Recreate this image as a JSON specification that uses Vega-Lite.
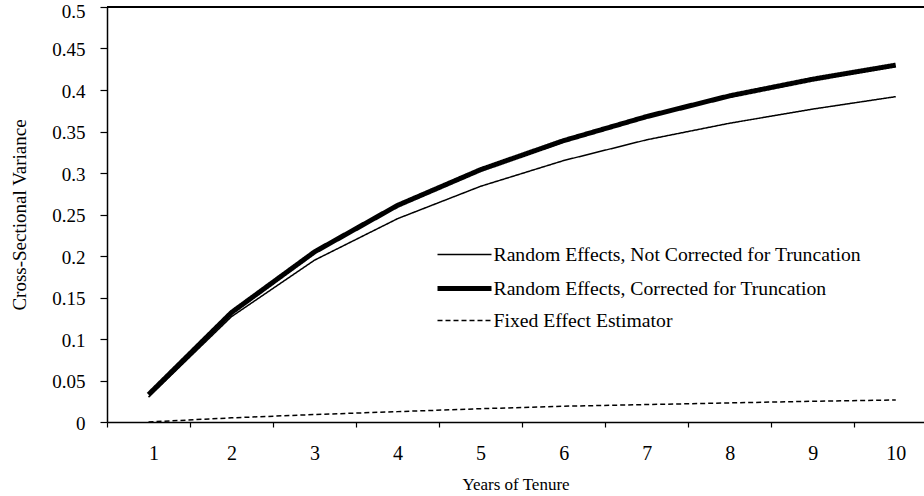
{
  "$schema": "https://vega.github.io/schema/vega-lite/v6.json",
  "autosize": "none",
  "width": 817,
  "height": 415,
  "padding": {"left": 107, "top": 7, "right": 0, "bottom": 74},
  "background": "white",
  "config": {
    "view": {"stroke": null},
    "font": "Liberation Serif",
    "axis": {"grid": false, "domainColor": "black", "tickColor": "black", "labelColor": "black", "titleColor": "black", "domainWidth": 1.5, "tickWidth": 1.2, "labelFont": "Liberation Serif", "titleFont": "Liberation Serif", "titleFontWeight": "normal"},
    "legend": {"labelFont": "Liberation Serif"}
  },
  "data": {
    "values": [
      {"t": 1, "s": "Random Effects, Not Corrected for Truncation", "v": 0.030},
      {"t": 2, "s": "Random Effects, Not Corrected for Truncation", "v": 0.127},
      {"t": 3, "s": "Random Effects, Not Corrected for Truncation", "v": 0.195},
      {"t": 4, "s": "Random Effects, Not Corrected for Truncation", "v": 0.245},
      {"t": 5, "s": "Random Effects, Not Corrected for Truncation", "v": 0.284},
      {"t": 6, "s": "Random Effects, Not Corrected for Truncation", "v": 0.315},
      {"t": 7, "s": "Random Effects, Not Corrected for Truncation", "v": 0.340},
      {"t": 8, "s": "Random Effects, Not Corrected for Truncation", "v": 0.360},
      {"t": 9, "s": "Random Effects, Not Corrected for Truncation", "v": 0.377},
      {"t": 10, "s": "Random Effects, Not Corrected for Truncation", "v": 0.392},
      {"t": 1, "s": "Random Effects, Corrected for Truncation", "v": 0.033},
      {"t": 2, "s": "Random Effects, Corrected for Truncation", "v": 0.132},
      {"t": 3, "s": "Random Effects, Corrected for Truncation", "v": 0.205},
      {"t": 4, "s": "Random Effects, Corrected for Truncation", "v": 0.261},
      {"t": 5, "s": "Random Effects, Corrected for Truncation", "v": 0.304},
      {"t": 6, "s": "Random Effects, Corrected for Truncation", "v": 0.339},
      {"t": 7, "s": "Random Effects, Corrected for Truncation", "v": 0.368},
      {"t": 8, "s": "Random Effects, Corrected for Truncation", "v": 0.393},
      {"t": 9, "s": "Random Effects, Corrected for Truncation", "v": 0.413},
      {"t": 10, "s": "Random Effects, Corrected for Truncation", "v": 0.430},
      {"t": 1, "s": "Fixed Effect Estimator", "v": 0.0},
      {"t": 2, "s": "Fixed Effect Estimator", "v": 0.005},
      {"t": 3, "s": "Fixed Effect Estimator", "v": 0.009},
      {"t": 4, "s": "Fixed Effect Estimator", "v": 0.0125},
      {"t": 5, "s": "Fixed Effect Estimator", "v": 0.016},
      {"t": 6, "s": "Fixed Effect Estimator", "v": 0.019},
      {"t": 7, "s": "Fixed Effect Estimator", "v": 0.021},
      {"t": 8, "s": "Fixed Effect Estimator", "v": 0.023},
      {"t": 9, "s": "Fixed Effect Estimator", "v": 0.025},
      {"t": 10, "s": "Fixed Effect Estimator", "v": 0.0265}
    ]
  },
  "layer": [
    {
      "mark": {"type": "rule", "color": "black", "strokeWidth": 1.5},
      "encoding": {"y": {"datum": 0.5}}
    },
    {
      "mark": {"type": "line", "strokeCap": "butt", "strokeJoin": "round"},
      "encoding": {
        "x": {
          "field": "t", "type": "quantitative",
          "scale": {"domain": [0.5, 10.34], "nice": false, "zero": false},
          "axis": {
            "values": [0.5, 1.5, 2.5, 3.5, 4.5, 5.5, 6.5, 7.5, 8.5, 9.5],
            "labelExpr": "datum.value + 0.5",
            "labelOffset": 41.5,
            "labelFontSize": 20,
            "labelPadding": 16,
            "tickSize": 5,
            "title": "Years of Tenure",
            "titleFontSize": 17,
            "titleY": 62,
            "titleBaseline": "middle"
          }
        },
        "y": {
          "field": "v", "type": "quantitative",
          "scale": {"domain": [0, 0.5], "nice": false},
          "axis": {
            "values": [0, 0.05, 0.1, 0.15, 0.2, 0.25, 0.3, 0.35, 0.4, 0.45, 0.5],
            "format": "~g",
            "labelFontSize": 19,
            "labelPadding": 15,
            "labelOffset": {"condition": {"test": "datum.value == 0.5", "value": 4}, "value": 1},
            "tickSize": 7,
            "title": "Cross-Sectional Variance",
            "titleFontSize": 19,
            "titleX": -88,
            "titleBaseline": "middle"
          }
        },
        "color": {
          "field": "s", "type": "nominal",
          "scale": {"domain": ["Random Effects, Not Corrected for Truncation", "Random Effects, Corrected for Truncation", "Fixed Effect Estimator"], "range": ["black", "black", "black"]},
          "legend": {
            "title": null, "orient": "none", "legendX": 341.5, "legendY": 233,
            "symbolType": "M-2,0H2", "symbolSize": 729, "labelFontSize": 19.7,
            "labelOffset": 13, "rowPadding": 7.5, "padding": 0, "labelLimit": 0
          }
        },
        "strokeWidth": {
          "field": "s", "type": "nominal",
          "scale": {"type": "ordinal", "domain": ["Random Effects, Not Corrected for Truncation", "Random Effects, Corrected for Truncation", "Fixed Effect Estimator"], "range": [1.5, 5, 1.5]}
        },
        "strokeDash": {
          "field": "s", "type": "nominal",
          "scale": {"domain": ["Random Effects, Not Corrected for Truncation", "Random Effects, Corrected for Truncation", "Fixed Effect Estimator"], "range": [[1, 0], [1, 0], [5, 3]]}
        }
      }
    }
  ]
}
